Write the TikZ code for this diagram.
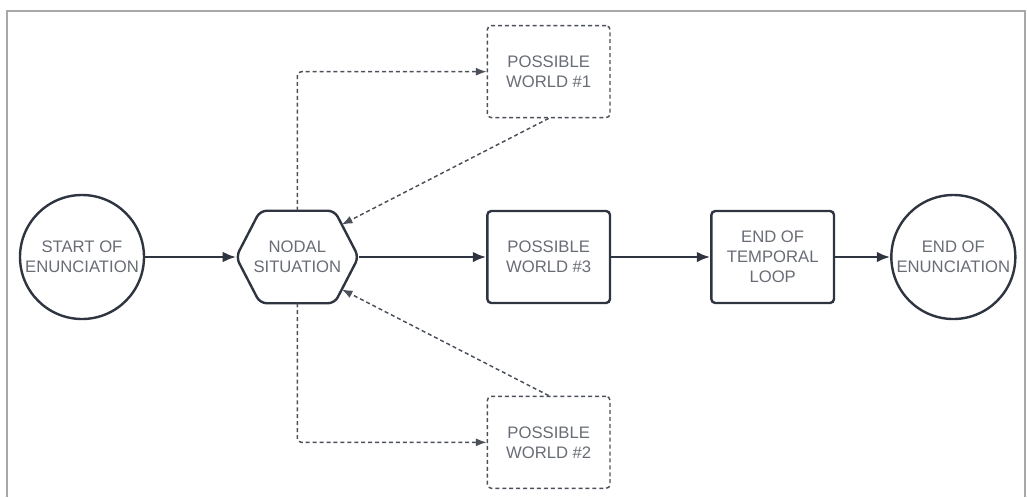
\documentclass[tikz,border=0pt]{standalone}
\usepackage{xcolor}
\usepackage{fontspec}
\setmainfont{Liberation Sans}
\usepackage{tikz}
\usetikzlibrary{positioning,arrows.meta,calc}

\definecolor{lineclr}{HTML}{2E3440}
\definecolor{txtclr}{HTML}{686C74}
\definecolor{dashclr}{HTML}{4B5059}
\definecolor{frameclr}{HTML}{A8A8A8}

\tikzset{
  lbl/.style={font=\fontsize{12.5}{15}\selectfont, text=txtclr, align=center},
  terminal/.style={lbl, circle, draw=lineclr, line width=1.8pt, minimum size=93pt, inner sep=0pt},
  hexa/.style={lbl, rectangle, minimum width=91.5pt, minimum height=69pt, inner sep=0pt},
  world/.style={lbl, rectangle, rounded corners=3pt, draw=lineclr, line width=1.8pt, minimum width=92pt, minimum height=69pt},
  maybe/.style={world, draw=dashclr, line width=1.1pt, dash pattern=on 3pt off 2.2pt},
  flow/.style={draw=lineclr, line width=1.8pt, -{Latex[length=10pt,width=8pt]}},
  branch/.style={draw=dashclr, line width=1.1pt, dash pattern=on 3pt off 2.2pt, rounded corners=3pt, -{Latex[length=8pt,width=6pt]}},
}

\begin{document}
\begin{tikzpicture}[x=0.75pt,y=-0.75pt]
    \useasboundingbox (0,0) rectangle (1027,497);
    \draw[frameclr, line width=1.2pt] (7,497) -- (7,11) -- (1025,11) -- (1025,497);

    \node[terminal] (start) at (82,257) {START OF\\ENUNCIATION} ;
    \node[hexa, right of=start, node distance=161.5pt] (nodal) {NODAL\\SITUATION} ;
    \node[world, right of=nodal, node distance=188.5pt] (pw3) {POSSIBLE\\WORLD \#3} ;
    \node[world, right of=pw3, node distance=168pt] (loop) {END OF\\TEMPORAL\\LOOP} ;
    \node[terminal, right of=loop, node distance=135.5pt] (finish) {END OF\\ENUNCIATION} ;
    \node[maybe, above of=pw3, node distance=139pt] (pw1) {POSSIBLE\\WORLD \#1} ;
    \node[maybe, below of=pw3, node distance=139pt] (pw2) {POSSIBLE\\WORLD \#2} ;

    % hexagon round the nodal situation
    \draw[draw=lineclr, line width=1.8pt, rounded corners=5pt]
      (nodal.north) -- ([xshift=-18pt]nodal.north east) -- (nodal.east)
      -- ([xshift=-18pt]nodal.south east) -- ([xshift=18pt]nodal.south west)
      -- (nodal.west) -- ([xshift=18pt]nodal.north west) -- cycle ;
    \coordinate (nodalne) at ($([xshift=-18pt]nodal.north east)!0.3!(nodal.east)$) ;
    \coordinate (nodalse) at ($([xshift=-18pt]nodal.south east)!0.3!(nodal.east)$) ;

    \draw[flow] (start) -- (nodal) ;
    \draw[flow] (nodal) -- (pw3) ;
    \draw[flow] (pw3) -- (loop) ;
    \draw[flow] (loop) -- (finish) ;
    \draw[branch] (nodal.north) |- (pw1) ;
    \draw[branch] (nodal.south) |- (pw2) ;
    \draw[branch] (pw1.south) -- (nodalne) ;
    \draw[branch] (pw2.north) -- (nodalse) ;
  \end{tikzpicture}
\end{document}
